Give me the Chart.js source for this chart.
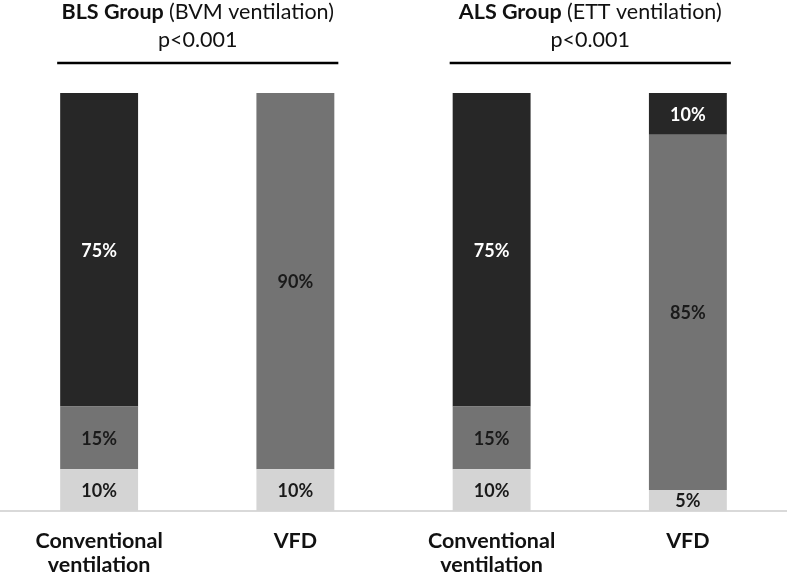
<!DOCTYPE html>
<html>
<head>
<meta charset="utf-8">
<script src="https://cdn.jsdelivr.net/npm/chart.js@4.4.1/dist/chart.umd.min.js"></script>
<style>
  html, body { margin: 0; padding: 0; background: #fff; }
  #chart { display: block; }
</style>
</head>
<body>
<canvas id="chart" width="787" height="576"></canvas>
<script>
var categories = [['Conventional', 'ventilation'], 'VFD', ['Conventional', 'ventilation'], 'VFD'];
var lowValues = [10, 10, 10, 5];
var midValues = [15, 90, 15, 85];
var highValues = [75, 0, 75, 10];

var groupNames = ['BLS Group', 'ALS Group'];
var groupNotes = ['(BVM ventilation)', '(ETT ventilation)'];
var groupPValues = ['p<0.001', 'p<0.001'];
var groupBars = [[0, 1], [2, 3]];

var FONT = 'Lato, "Open Sans", sans-serif';

// percentage text inside each segment
var segmentLabels = {
    id: 'segmentLabels',
    afterDatasetsDraw: function (chart) {
        var ctx = chart.ctx;
        ctx.save();
        ctx.font = 'bold 18px ' + FONT;
        ctx.textAlign = 'center';
        ctx.textBaseline = 'middle';
        chart.data.datasets.forEach(function (ds, di) {
            var meta = chart.getDatasetMeta(di);
            meta.data.forEach(function (bar, i) {
                var v = ds.data[i];
                if (!v) {
                    return;
                }
                ctx.fillStyle = ds.labelColor;
                ctx.fillText(v + '%', bar.x, (bar.y + bar.base) / 2 + 1);
            });
        });
        ctx.restore();
    }
};

// group titles and the bracket line above each pair of bars
var groupHeaders = {
    id: 'groupHeaders',
    afterDraw: function (chart) {
        var ctx = chart.ctx;
        var meta = chart.getDatasetMeta(0);
        ctx.save();
        groupBars.forEach(function (pair, g) {
            var a = meta.data[pair[0]];
            var b = meta.data[pair[1]];
            var x1 = a.x - a.width / 2 - 3;
            var x2 = b.x + b.width / 2 + 4;
            var cx = (x1 + x2) / 2;

            ctx.strokeStyle = '#000';
            ctx.lineWidth = 2.5;
            ctx.beginPath();
            ctx.moveTo(x1, 63);
            ctx.lineTo(x2, 63);
            ctx.stroke();

            ctx.fillStyle = '#111';
            ctx.textBaseline = 'alphabetic';
            ctx.font = 'bold 21.5px ' + FONT;
            var w1 = ctx.measureText(groupNames[g] + ' ').width;
            ctx.font = '21.5px ' + FONT;
            var w2 = ctx.measureText(groupNotes[g]).width;
            var sx = cx - (w1 + w2) / 2;
            ctx.textAlign = 'left';
            ctx.font = 'bold 21.5px ' + FONT;
            ctx.fillText(groupNames[g] + ' ', sx, 19);
            ctx.font = '21.5px ' + FONT;
            ctx.fillText(groupNotes[g], sx + w1, 19);

            ctx.textAlign = 'center';
            ctx.fillText(groupPValues[g], cx, 47);
        });
        ctx.restore();
    }
};

var config = {
    type: 'bar',
    data: {
        labels: categories,
        datasets: [{
            data: lowValues,
            backgroundColor: '#d4d4d4',
            labelColor: '#1a1a1a'
        }, {
            data: midValues,
            backgroundColor: '#737373',
            labelColor: '#1a1a1a'
        }, {
            data: highValues,
            backgroundColor: '#272727',
            labelColor: '#ffffff'
        }]
    },
    options: {
        responsive: false,
        animation: false,
        devicePixelRatio: 1,
        layout: {
            padding: { top: 93, bottom: 0, left: 1, right: 1 }
        },
        datasets: {
            bar: {
                barPercentage: 0.397,
                categoryPercentage: 1,
                borderWidth: 0
            }
        },
        plugins: {
            legend: { display: false },
            title: { display: false },
            tooltip: { enabled: false }
        },
        scales: {
            x: {
                stacked: true,
                afterFit: function (scale) {
                    scale.height = 65;
                },
                grid: { display: false, drawTicks: false },
                border: { display: true, color: '#d9d9d9', width: 2 },
                ticks: {
                    color: '#111',
                    padding: 18,
                    maxRotation: 0,
                    autoSkip: false,
                    font: { family: FONT, size: 21.5, weight: 'bold', lineHeight: 1.12 }
                }
            },
            y: {
                stacked: true,
                display: false,
                min: 0,
                max: 100
            }
        }
    },
    plugins: [segmentLabels, groupHeaders]
};

var ctx = document.getElementById('chart').getContext('2d');
new Chart(ctx, config);
</script>
</body>
</html>
